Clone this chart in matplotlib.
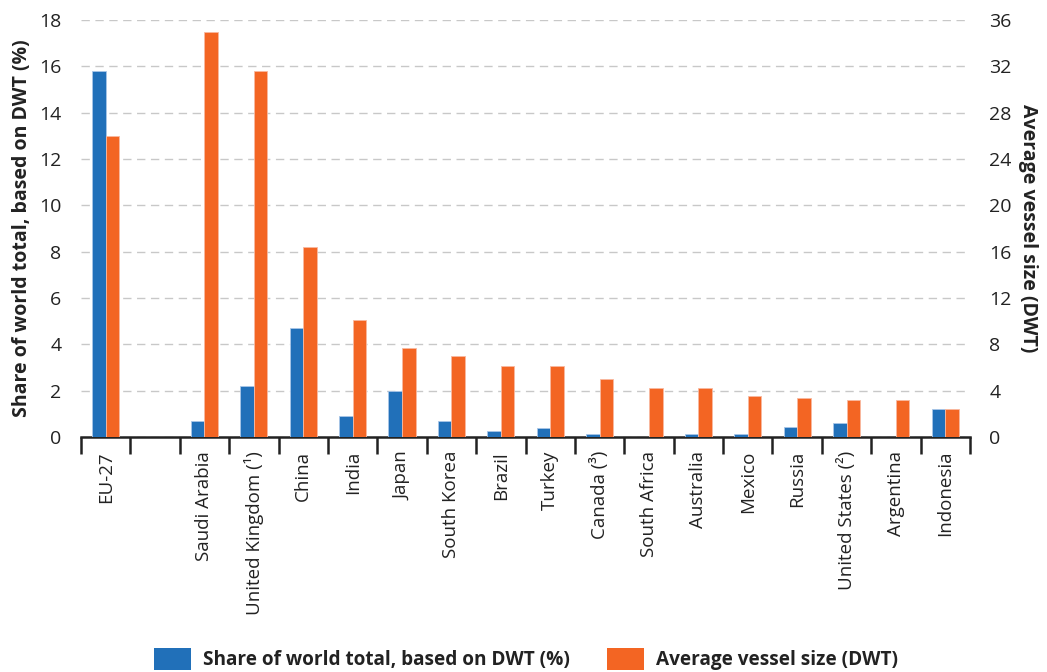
import numpy as np
import matplotlib
matplotlib.use('Agg')
import matplotlib.pyplot as plt
from matplotlib.ticker import FixedLocator
from matplotlib.patches import Patch

plt.rcParams['font.family'] = ['Open Sans', 'DejaVu Sans']

# Data
countries = ['EU-27', '', 'Saudi Arabia', 'United Kingdom (¹)', 'China', 'India',
             'Japan', 'South Korea', 'Brazil', 'Turkey', 'Canada (³)', 'South Africa',
             'Australia', 'Mexico', 'Russia', 'United States (²)', 'Argentina', 'Indonesia']
share_pct = [15.8, 0, 0.7, 2.2, 4.7, 0.9, 2.0, 0.7, 0.25, 0.4, 0.14, 0,
             0.14, 0.14, 0.42, 0.6, 0, 1.22]
avg_size = [26.0, 0, 35.0, 31.6, 16.4, 10.1, 7.7, 7.0, 6.1, 6.1, 5.0, 4.25,
            4.25, 3.55, 3.37, 3.2, 3.2, 2.45]

BLUE = '#2170b9'
ORANGE = '#f36523'
TXT = '#222222'
W = 0.275

fig = plt.figure(figsize=(10.47, 6.72), dpi=100)
ax = fig.add_axes([81 / 1047, 1 - 437 / 672, (970 - 81) / 1047, 417 / 672])
ax2 = ax.twinx()

x = np.arange(len(countries))
ax.bar(x - W / 2, share_pct, W, color=BLUE, edgecolor='#a9c6e8', linewidth=0.6, zorder=3)
ax2.bar(x + W / 2, avg_size, W, color=ORANGE, edgecolor='#f9b9a0', linewidth=0.6, zorder=3)

ax.set_xlim(-0.5, len(countries) - 0.5)
ax.set_ylim(0, 18)
ax2.set_ylim(0, 36)
ax.set_yticks(np.arange(0, 19, 2))
ax2.set_yticks(np.arange(0, 37, 4))

ax.yaxis.grid(True, linestyle=(0, (6, 4)), color='#c8c8c8', linewidth=1, zorder=0)
ax.set_axisbelow(True)

for a in (ax, ax2):
    for side in ('top', 'left', 'right'):
        a.spines[side].set_visible(False)
ax2.spines['bottom'].set_visible(False)
ax.spines['bottom'].set_color(TXT)
ax.spines['bottom'].set_linewidth(1.8)

# labels at category centres, tick marks at boundaries
ax.set_xticks(x)
ax.set_xticklabels(countries, rotation=90, fontsize=13.5, color=TXT)
ax.tick_params(axis='x', which='major', length=0, pad=10)
ax.xaxis.set_minor_locator(FixedLocator(np.arange(-0.5, len(countries), 1)))
ax.tick_params(axis='x', which='minor', length=12, width=1.8, color=TXT)

ax.tick_params(axis='y', length=0, pad=14, labelsize=14, labelcolor=TXT)
ax2.tick_params(axis='y', length=0, pad=14, labelsize=14, labelcolor=TXT)

ax.set_ylabel('Share of world total, based on DWT (%)', fontsize=14,
              fontweight='bold', color=TXT, labelpad=5)
ax2.set_ylabel('Average vessel size (DWT)', fontsize=14, fontweight='bold',
               color=TXT, rotation=270, labelpad=19)

# legend
handles = [Patch(facecolor=BLUE, label='Share of world total, based on DWT (%)'),
           Patch(facecolor=ORANGE, label='Average vessel size (DWT)')]
fig.legend(handles=handles, loc='center', bbox_to_anchor=(526 / 1047, 1 - 659 / 672), ncol=2,
           frameon=False, prop={'weight': 'bold', 'size': 13.7},
           handlelength=1.95, handleheight=1.4, columnspacing=1.95, handletextpad=0.62,
           labelcolor=TXT, borderpad=0)

fig.savefig('out.png', dpi=100)
